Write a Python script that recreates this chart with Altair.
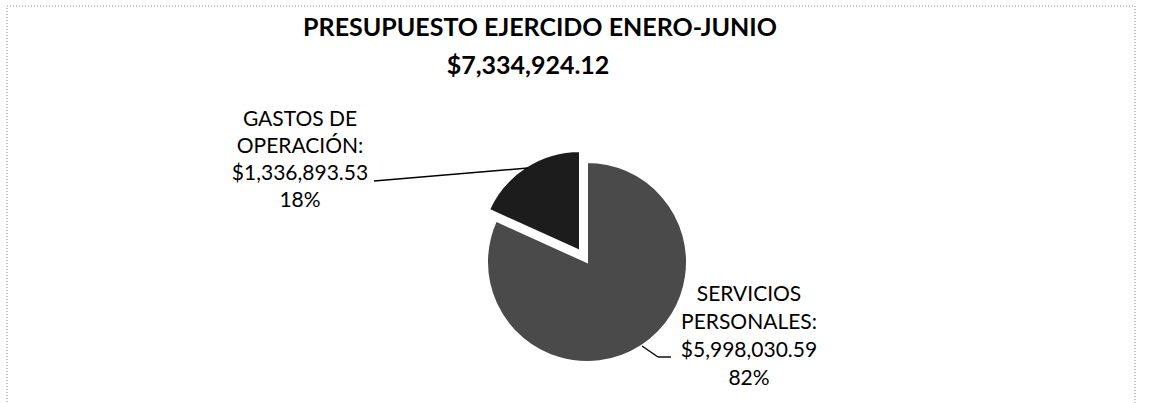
import altair as alt
import pandas as pd

# ---- data ----
categories = ["SERVICIOS PERSONALES", "GASTOS DE OPERACIÓN"]
label_lines = [["SERVICIOS", "PERSONALES:"], ["GASTOS DE", "OPERACIÓN:"]]
values = [5998030.59, 1336893.53]
percent_labels = ["82%", "18%"]
title_lines = ["PRESUPUESTO EJERCIDO ENERO-JUNIO", "$7,334,924.12"]

df = pd.DataFrame({
    "order": [0, 1],
    "category": categories,
    "value": values,
    "label": ["\n".join(label_lines[i] + [f"${values[i]:,.2f}", percent_labels[i]]) for i in range(2)],
})

FONT = "Lato"
W, H = 1150, 403

base = (
    alt.Chart(df)
    .transform_joinaggregate(total="sum(value)")
    .transform_window(cum="sum(value)", sort=[alt.SortField("order")])
    .transform_calculate(
        start="(datum.cum - datum.value) / datum.total",
        end="datum.cum / datum.total",
    )
)

theta_scale = alt.Scale(domain=[0, 1], range=[0, 6.283185307])

big = base.transform_filter("datum.order == 0").mark_arc(
    outerRadius=100, stroke="white", strokeWidth=2
).encode(
    theta=alt.Theta("start:Q", scale=theta_scale),
    theta2="end:Q",
    x=alt.value(587),
    y=alt.value(262),
    color=alt.value("#4a4a4a"),
)

small = base.transform_filter("datum.order == 1").mark_arc(
    outerRadius=100, stroke="white", strokeWidth=2
).encode(
    theta=alt.Theta("start:Q", scale=theta_scale),
    theta2="end:Q",
    x=alt.value(580),
    y=alt.value(251),
    color=alt.value("#1c1c1c"),
)

label_right = alt.Chart(df).transform_filter("datum.order == 0").mark_text(
    font=FONT, fontSize=21, lineBreak="\n", lineHeight=28,
    align="center", baseline="middle", color="black"
).encode(text="label:N", x=alt.value(749), y=alt.value(295))

label_left = alt.Chart(df).transform_filter("datum.order == 1").mark_text(
    font=FONT, fontSize=21, lineBreak="\n", lineHeight=27,
    align="center", baseline="middle", color="black"
).encode(text="label:N", x=alt.value(300), y=alt.value(120))

one = pd.DataFrame({"t": title_lines})

title1 = alt.Chart(one).transform_filter(alt.datum.t == title_lines[0]).mark_text(
    font=FONT, fontSize=25, fontWeight="bold", align="center", baseline="middle", color="black"
).encode(text="t:N", x=alt.value(540), y=alt.value(28))

title2 = alt.Chart(one).transform_filter(alt.datum.t == title_lines[1]).mark_text(
    font=FONT, fontSize=25, fontWeight="bold", align="center", baseline="middle", color="black"
).encode(text="t:N", x=alt.value(528), y=alt.value(66))

lead_left = alt.Chart(one).transform_filter(alt.datum.t == title_lines[0]).mark_rule(
    color="black", strokeWidth=1.4
).encode(x=alt.value(374), y=alt.value(181), x2=alt.value(528), y2=alt.value(168))

lead_r1 = alt.Chart(one).transform_filter(alt.datum.t == title_lines[0]).mark_rule(
    color="black", strokeWidth=1.4
).encode(x=alt.value(642), y=alt.value(346), x2=alt.value(658), y2=alt.value(357))

lead_r2 = alt.Chart(one).transform_filter(alt.datum.t == title_lines[0]).mark_rule(
    color="black", strokeWidth=1.4
).encode(x=alt.value(658), y=alt.value(357), x2=alt.value(671), y2=alt.value(357))

border = alt.Chart(one).transform_filter(alt.datum.t == title_lines[0]).mark_rect(
    fill="transparent", stroke="#8a8a8a", strokeWidth=1, strokeDash=[1, 2]
).encode(x=alt.value(7), y=alt.value(6), x2=alt.value(1135), y2=alt.value(420))

chart = alt.layer(
    border, big, small, lead_left, lead_r1, lead_r2, label_left, label_right, title1, title2
).properties(
    width=W, height=H, padding=0, autosize=alt.AutoSizeParams(type="none"), background="white"
).configure_view(stroke=None)

chart.save("out.html", embed_options={"renderer": "svg", "actions": False})
